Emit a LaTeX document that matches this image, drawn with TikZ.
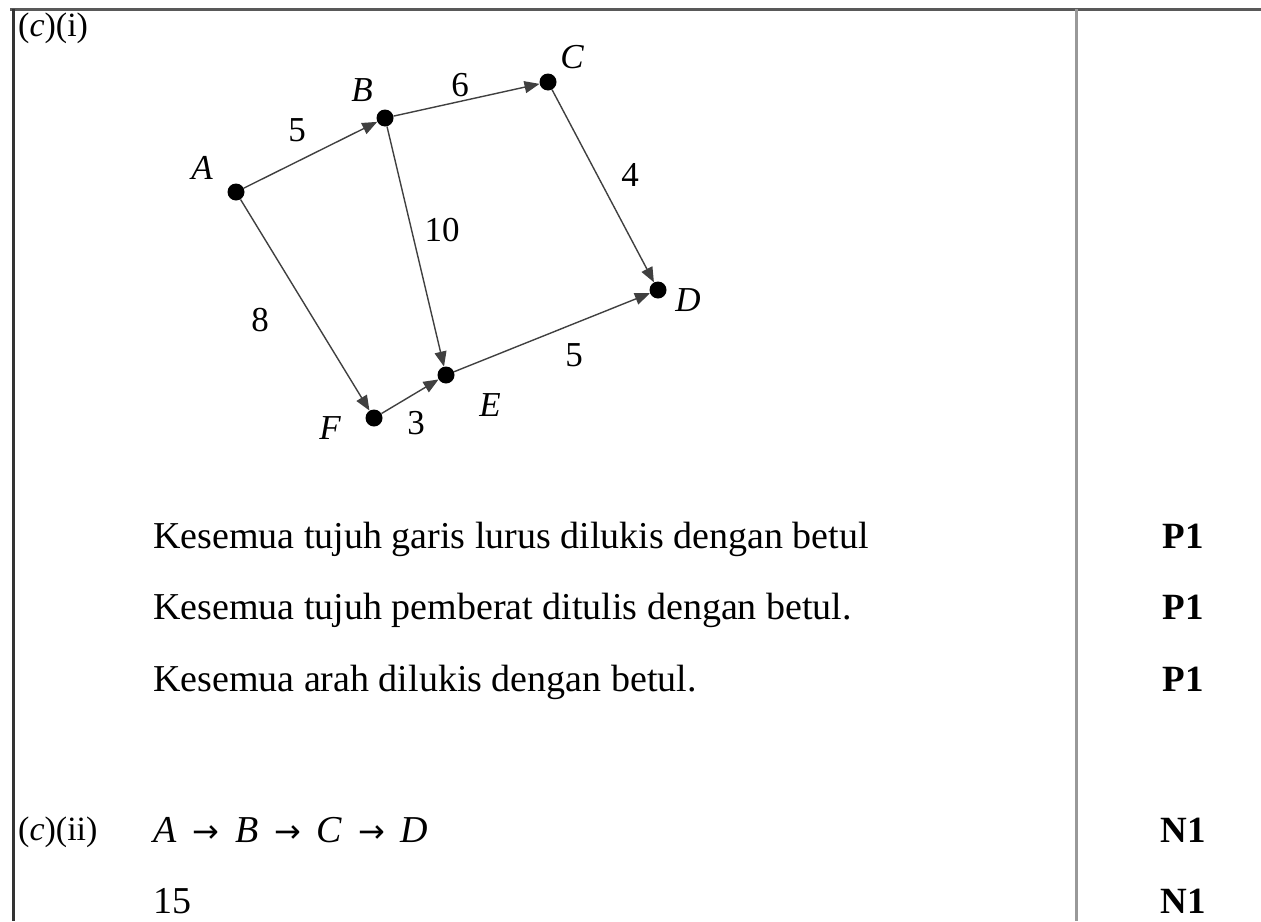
\documentclass[tikz,border=0pt]{standalone}
\usepackage{fontspec}
\setmainfont{Liberation Serif}
\newfontfamily\arrowfont{DejaVu Sans}
\usetikzlibrary{arrows.meta}

\newcommand{\pathto}{\,{\arrowfont\fontsize{32}{36}\selectfont →}\,}

\begin{document}
\begin{tikzpicture}[
    x=1pt, y=-1pt,
    dot/.style={circle, fill=black, inner sep=0pt, minimum size=17pt},
    lbl/.style={font=\fontsize{35}{40}\selectfont\itshape, inner sep=0pt},
    wt/.style={font=\fontsize{35}{40}\selectfont, inner sep=0pt},
    arr/.style={-{Triangle[length=15pt, width=12pt]}, line width=1.4pt, draw=black!75},
    txt/.style={font=\fontsize{38}{44}\selectfont, anchor=base west, inner sep=0pt},
    part/.style={font=\fontsize{34}{40}\selectfont, anchor=base west, inner sep=0pt},
    score/.style={font=\fontsize{37}{44}\selectfont\bfseries, anchor=base, inner sep=0pt},
    rule/.style={line width=3pt}
  ]
  \useasboundingbox (0,0) rectangle (1261,921);
  % frame
  \draw[rule, black!65] (10,9) -- (1261,9);
  \draw[rule, black!80] (13,9) -- (13,921);
  \draw[rule, black!40] (1076,9) -- (1076,921);

  \node[part] (ci) at (18,36) {(\textit{c})(i)};

  % network
  \node[dot] (A) at (236,192) {};
  \node[dot] (B) at (385,118) {};
  \node[dot] (C) at (548,82) {};
  \node[dot] (D) at (658,290) {};
  \node[dot] (E) at (446,375) {};
  \node[dot] (F) at (374,418) {};

  \node[lbl] (lA) at (202,168) {A};
  \node[lbl] (lB) at (362,90) {B};
  \node[lbl] (lC) at (572,57) {C};
  \node[lbl] (lD) at (688,300) {D};
  \node[lbl] (lE) at (490,405) {E};
  \node[lbl] (lF) at (330,428) {F};

  \draw[arr] (A) -- (B);
  \draw[arr] (B) -- (C);
  \draw[arr] (C) -- (D);
  \draw[arr] (B) -- (E);
  \draw[arr] (A) -- (F);
  \draw[arr] (F) -- (E);
  \draw[arr] (E) -- (D);

  \node[wt] (wAB) at (297,130) {5};
  \node[wt] (wBC) at (460,85) {6};
  \node[wt] (wCD) at (630,175) {4};
  \node[wt] (wBE) at (442,230) {10};
  \node[wt] (wAF) at (260,320) {8};
  \node[wt] (wED) at (574,355) {5};
  \node[wt] (wFE) at (416,423) {3};

  % marking scheme
  \node[txt] (t1) at (153,548) {Kesemua tujuh garis lurus dilukis dengan betul};
  \node[txt] (t2) at (153,619) {Kesemua tujuh pemberat ditulis dengan betul.};
  \node[txt] (t3) at (153,691) {Kesemua arah dilukis dengan betul.};
  \node[score] (m1) at (1183,548) {P1};
  \node[score] (m2) at (1183,619) {P1};
  \node[score] (m3) at (1183,691) {P1};

  \node[part] (cii) at (18,840) {(\textit{c})(ii)};
  \node[txt] (route) at (153,842) {\textit{A} \pathto{} \textit{B} \pathto{} \textit{C} \pathto{} \textit{D}};
  \node[txt] (tot) at (153,913) {15};
  \node[score] (m4) at (1183,842) {N1};
  \node[score] (m5) at (1183,913) {N1};
\end{tikzpicture}
\end{document}
